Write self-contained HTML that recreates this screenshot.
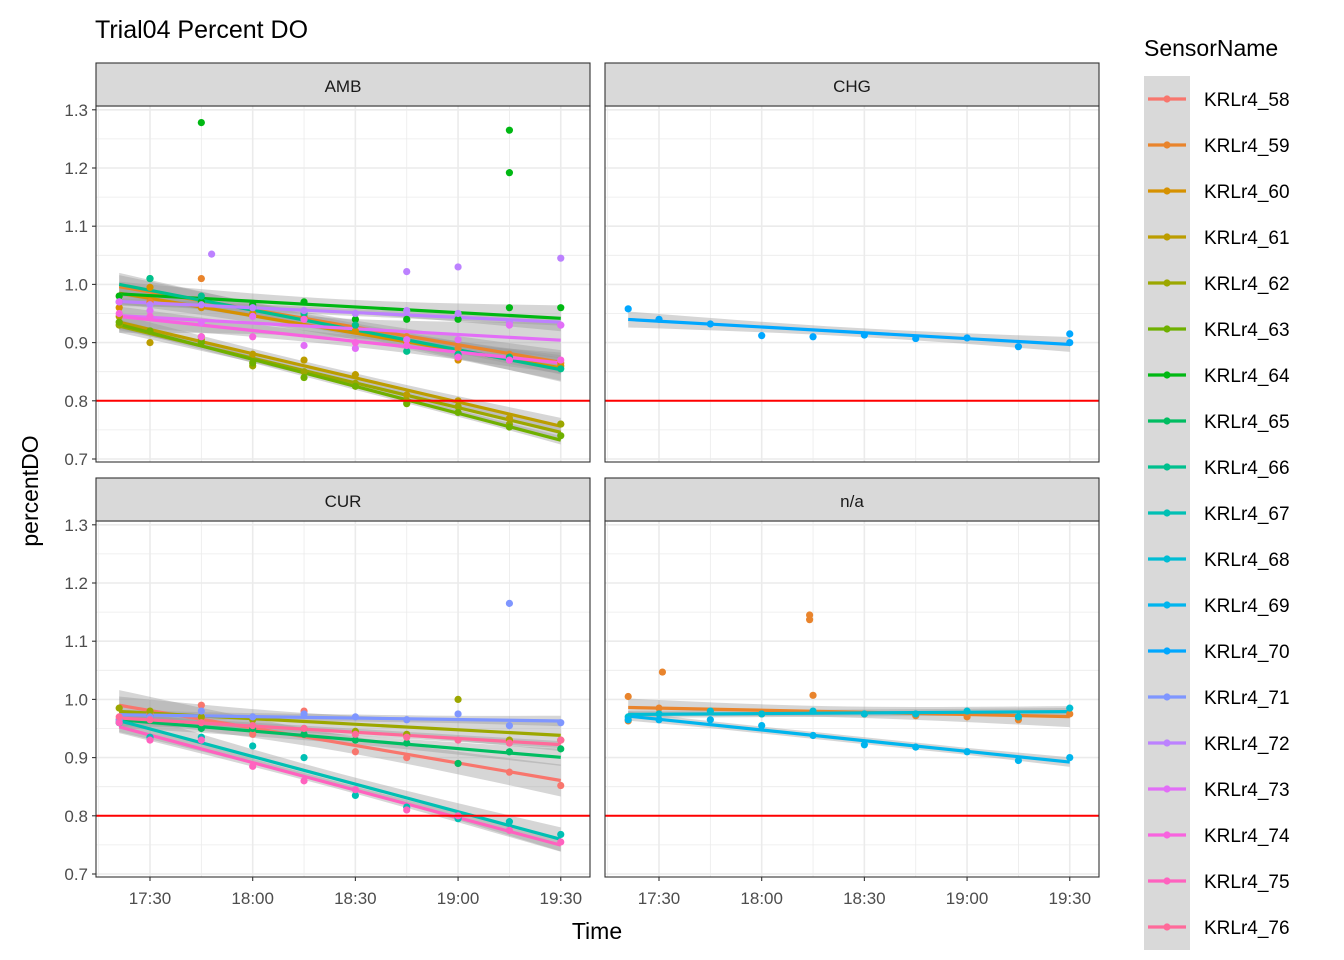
<!DOCTYPE html>
<html><head><meta charset="utf-8"><style>
body{margin:0;background:#fff;}
svg{display:block;font-family:"Liberation Sans",Arial,sans-serif;}
</style></head><body>
<svg id="c" width="1344" height="960" xmlns="http://www.w3.org/2000/svg"></svg>
<script>
const sensorNames=["KRLr4_58","KRLr4_59","KRLr4_60","KRLr4_61","KRLr4_62","KRLr4_63","KRLr4_64","KRLr4_65","KRLr4_66","KRLr4_67","KRLr4_68","KRLr4_69","KRLr4_70","KRLr4_71","KRLr4_72","KRLr4_73","KRLr4_74","KRLr4_75","KRLr4_76"];
const panelNames=["AMB","CHG","CUR","n/a"];
const sampleTimes=[21,30,45,60,75,90,105,120,135,150]; // minutes after 17:00
const seriesPanel=[0,0,0,0,0,0,0,0,0,0, 1, 2,2,2,2,2,2,2, 3,3,3];
const seriesSensor=[1,2,3,4,5,6,8,14,15,16, 12, 0,4,7,9,13,17,18, 1,10,11];
const seriesValues=[
[0.98,0.97,1.01,0.96,0.94,0.93,0.91,0.89,0.88,0.865],
[0.96,0.995,0.96,0.95,0.945,0.92,0.9,0.87,null,0.86],
[0.945,0.9,0.91,0.88,0.87,0.845,0.81,0.8,0.77,0.76],
[0.93,0.92,0.905,0.86,0.85,0.83,0.8,0.79,0.76,0.76],
[0.935,0.92,0.9,0.865,0.84,0.825,0.795,0.78,0.755,0.74],
[0.98,1.01,0.97,0.965,0.97,0.94,0.94,0.94,0.96,0.96],
[0.97,1.01,0.98,0.96,0.95,0.93,0.885,0.88,0.875,0.855],
[0.97,0.965,0.965,0.96,0.955,0.95,0.955,0.95,0.935,0.93],
[0.97,0.955,0.935,0.945,0.895,0.89,0.905,0.905,0.93,0.93],
[0.95,0.945,0.91,0.91,0.94,0.9,0.895,0.875,0.87,0.87],
[0.958,0.94,0.932,0.912,0.91,0.913,0.907,0.908,0.893,0.915],
[0.965,0.975,0.99,0.94,0.98,0.91,0.9,0.89,0.875,0.852],
[0.985,0.98,0.97,0.965,0.95,0.945,0.94,1.0,0.93,0.93],
[0.96,0.97,0.95,0.95,0.94,0.93,0.925,0.89,0.91,0.915],
[0.96,0.935,0.935,0.92,0.9,0.835,0.815,0.795,0.79,0.768],
[0.965,0.97,0.98,0.97,0.975,0.97,0.965,0.975,0.955,0.96],
[0.96,0.93,0.93,0.885,0.86,0.845,0.81,0.8,0.775,0.755],
[0.97,0.965,0.96,0.955,0.95,0.94,0.935,0.93,0.925,0.93],
[1.005,0.985,0.98,0.975,1.007,0.975,0.972,0.97,0.965,0.975],
[0.97,0.975,0.98,0.975,0.98,0.975,0.975,0.98,0.97,0.985],
[0.965,0.965,0.965,0.955,0.938,0.922,0.918,0.91,0.895,0.9]];
const extraSeries=[10,18];
const extraTime=[150,21];
const extraValue=[0.9,0.963];
const outlierSeries=[5,5,5,7,7,7,7,15,18,18,18];
const outlierTime=[45,135,135,48,105,120,150,135,31,74,74];
const outlierValue=[1.278,1.265,1.192,1.052,1.022,1.03,1.045,1.165,1.047,1.145,1.137];
const yTicks=[0.7,0.8,0.9,1.0,1.1,1.2,1.3];
const xTicks=[30,60,90,120,150];
const xTickLabels=["17:30","18:00","18:30","19:00","19:30"];
const refLine=0.8;

const NS="http://www.w3.org/2000/svg";
const svg=document.getElementById('c');
function el(tag,attrs,parent){const e=document.createElementNS(NS,tag);for(const k in attrs)e.setAttribute(k,attrs[k]);(parent||svg).appendChild(e);return e;}
function hcl(h){const L=65,C=100,hr=h*Math.PI/180;const u=C*Math.cos(hr),v=C*Math.sin(hr);
const Xn=95.047,Yn=100,Zn=108.883;const un=4*Xn/(Xn+15*Yn+3*Zn),vn=9*Yn/(Xn+15*Yn+3*Zn);
const Y=Math.pow((L+16)/116,3)*100;const up=u/(13*L)+un,vp=v/(13*L)+vn;
const X=Y*9*up/(4*vp),Z=Y*(12-3*up-20*vp)/(4*vp);
const x=X/100,y=Y/100,z=Z/100;
let r=3.2404542*x-1.5371385*y-0.4985314*z,g=-0.969266*x+1.8760108*y+0.041556*z,b=0.0556434*x-0.2040259*y+1.0572252*z;
const gm=c=>{c=c<=0.0031308?12.92*c:1.055*Math.pow(c,1/2.4)-0.055;return Math.round(Math.max(0,Math.min(1,c))*255);};
return `rgb(${gm(r)},${gm(g)},${gm(b)})`;}
const colors=sensorNames.map((_,i)=>hcl(15+i*360/19));

const panels=[{x0:96,x1:590,y0:106,y1:462,sy:63},{x0:605,x1:1099,y0:106,y1:462,sy:63},{x0:96,x1:590,y0:521,y1:877,sy:478},{x0:605,x1:1099,y0:521,y1:877,sy:478}];
function xs(p,t){return p.x0+54+(t-30)*3.423;}
function ys(p,v){return p.y1-3-(v-0.7)*582;}

const t=el('text',{x:95,y:38,'font-size':25,fill:'#000'});t.textContent='Trial04 Percent DO';


panels.forEach((p,pi)=>{
  const g=el('g',{});
   
  el('rect',{x:p.x0,y:p.y0,width:p.x1-p.x0,height:p.y1-p.y0,fill:'#fff'},g);
  for(let m=15;m<=165;m+=30){const x=xs(p,m);if(x>p.x0&&x<p.x1)el('line',{x1:x,x2:x,y1:p.y0,y2:p.y1,stroke:'#ebebeb','stroke-width':0.8},g);}
  for(let v=0.75;v<1.3;v+=0.1)el('line',{x1:p.x0,x2:p.x1,y1:ys(p,v),y2:ys(p,v),stroke:'#ebebeb','stroke-width':0.8},g);
  xTicks.forEach(m=>el('line',{x1:xs(p,m),x2:xs(p,m),y1:p.y0,y2:p.y1,stroke:'#ebebeb','stroke-width':1.6},g));
  yTicks.forEach(v=>el('line',{x1:p.x0,x2:p.x1,y1:ys(p,v),y2:ys(p,v),stroke:'#ebebeb','stroke-width':1.6},g));
  const s=el('rect',{x:p.x0,y:p.sy,width:p.x1-p.x0,height:p.y0-p.sy,fill:'#d9d9d9',stroke:'#333','stroke-width':1.1});
  
  const st=el('text',{x:(p.x0+p.x1)/2,y:p.sy+29,'font-size':17,fill:'#1a1a1a','text-anchor':'middle'});st.textContent=panelNames[pi];
  const ribbons=el('g',{},g), lines=el('g',{},g), pts=el('g',{},g);
  seriesPanel.forEach((sp,si)=>{
    if(sp!==pi)return;
    const T=[],V=[];
    seriesValues[si].forEach((v,k)=>{if(v!==null){T.push(sampleTimes[k]);V.push(v);}});
    extraSeries.forEach((es,k)=>{if(es===si){T.push(extraTime[k]);V.push(extraValue[k]);}});
    const n=T.length,mt=T.reduce((a,b)=>a+b)/n,mv=V.reduce((a,b)=>a+b)/n;
    let sxx=0,sxy=0;T.forEach((tt,k)=>{sxx+=(tt-mt)**2;sxy+=(tt-mt)*(V[k]-mv);});
    const b=sxy/sxx,a=mv-b*mt;let sse=0;T.forEach((tt,k)=>{sse+=(V[k]-a-b*tt)**2;});
    const sd=Math.sqrt(sse/(n-2));
    const tmin=Math.min(...T),tmax=Math.max(...T);
    const up=[],lo=[];
    for(let k=0;k<=20;k++){const tt=tmin+(tmax-tmin)*k/20;const se=Math.max(0.006,sd*Math.sqrt(1/n+(tt-mt)**2/sxx)*2.2);const f=a+b*tt;
      up.push(xs(p,tt)+','+ys(p,f+se));lo.unshift(xs(p,tt)+','+ys(p,f-se));}
    const rb=el('polygon',{points:up.concat(lo).join(' '),fill:'rgba(153,153,153,0.4)'},ribbons);
    
    const ln=el('line',{x1:xs(p,tmin),y1:ys(p,a+b*tmin),x2:xs(p,tmax),y2:ys(p,a+b*tmax),stroke:colors[seriesSensor[si]],'stroke-width':3.2},lines);
    
    const allT=T.slice(),allV=V.slice();
    outlierSeries.forEach((os,k)=>{if(os===si){allT.push(outlierTime[k]);allV.push(outlierValue[k]);}});
    allT.forEach((tt,k)=>{const c=el('circle',{cx:xs(p,tt),cy:ys(p,allV[k]),r:3.6,fill:colors[seriesSensor[si]]},pts);
      });
  });
  const rl=el('line',{x1:p.x0,x2:p.x1,y1:ys(p,refLine),y2:ys(p,refLine),stroke:'#ff0000','stroke-width':2},g);
  
  el('rect',{x:p.x0,y:p.y0,width:p.x1-p.x0,height:p.y1-p.y0,fill:'none',stroke:'#333','stroke-width':1.1},g);
  if(pi===0||pi===2){yTicks.forEach(v=>{el('line',{x1:p.x0-4,x2:p.x0,y1:ys(p,v),y2:ys(p,v),stroke:'#333','stroke-width':1.1});
    const tl=el('text',{x:p.x0-8,y:ys(p,v)+6,'font-size':17,fill:'#4d4d4d','text-anchor':'end'});tl.textContent=v.toFixed(1);
    });}
  if(pi>=2){xTicks.forEach((m,k)=>{el('line',{x1:xs(p,m),x2:xs(p,m),y1:p.y1,y2:p.y1+4,stroke:'#333','stroke-width':1.1});
    const tl=el('text',{x:xs(p,m),y:p.y1+27,'font-size':17,fill:'#4d4d4d','text-anchor':'middle'});tl.textContent=xTickLabels[k];
    });}
});
const xt=el('text',{x:597,y:939,'font-size':23,fill:'#000','text-anchor':'middle'});xt.textContent='Time';

const yt=el('text',{x:0,y:0,'font-size':23,fill:'#000','text-anchor':'middle',transform:'translate(38,491) rotate(-90)'});yt.textContent='percentDO';

const lg=el('g',{});
const lt=el('text',{x:1144,y:56,'font-size':23,fill:'#000'},lg);lt.textContent='SensorName';
el('rect',{x:1144,y:76,width:46,height:874,fill:'#d9d9d9'},lg);
sensorNames.forEach((nm,i)=>{const y=99+46*i;
  const e=el('g',{},lg);
  el('line',{x1:1148,x2:1186,y1:y,y2:y,stroke:colors[i],'stroke-width':3.2},e);
  el('circle',{cx:1167,cy:y,r:3.6,fill:colors[i]},e);
  const tx=el('text',{x:1204,y:y+7,'font-size':19,fill:'#000'},e);tx.textContent=nm;});
</script>
</body></html>
